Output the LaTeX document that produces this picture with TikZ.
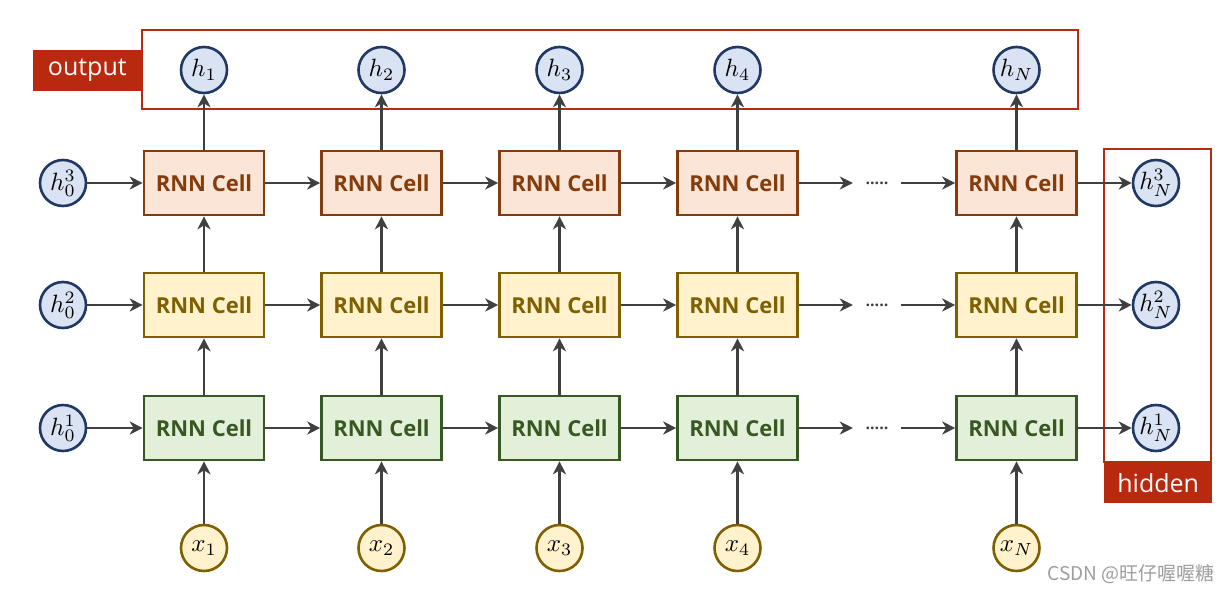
\documentclass[tikz,border=0pt]{standalone}
\usepackage{fix-cm}
\usepackage{fontspec}
\setmainfont{Open Sans}
\newfontfamily\cjkfont{Noto Sans CJK SC}
\usetikzlibrary{arrows.meta}
\definecolor{orfill}{HTML}{FBE5D6}
\definecolor{orline}{HTML}{843C0C}
\definecolor{yefill}{HTML}{FFF2CC}
\definecolor{yeline}{HTML}{7F6000}
\definecolor{grfill}{HTML}{E2F0D9}
\definecolor{grline}{HTML}{385723}
\definecolor{blfill}{HTML}{DAE3F3}
\definecolor{blline}{HTML}{203864}
\definecolor{redc}{HTML}{B8290F}
\definecolor{arrgray}{HTML}{404040}
\newcommand{\circmath}[1]{\scalebox{2.5}{$#1$}}
\tikzset{
  cell/.style={draw, line width=2.6pt, minimum width=120pt, minimum height=64pt, inner sep=0pt,
    font=\fontsize{22}{22}\selectfont\bfseries},
  rowc/.style={cell, fill=orfill, draw=orline, text=orline},
  rowb/.style={cell, fill=yefill, draw=yeline, text=yeline},
  rowa/.style={cell, fill=grfill, draw=grline, text=grline},
  hcirc/.style={circle, draw=blline, fill=blfill, line width=2.6pt, minimum size=46pt, inner sep=0pt,
    font=\normalsize},
  xcirc/.style={hcirc, draw=yeline, fill=yefill},
  arr/.style={-{Stealth[length=13pt,width=13pt,inset=4pt]}, line width=2.5pt, draw=arrgray},
  redbox/.style={draw=redc, line width=2.2pt},
  redlabel/.style={fill=redc, text=white, inner sep=0pt, font=\fontsize{25}{25}\selectfont},
  dotsnode/.style={minimum width=48pt, inner sep=0pt, font=\fontsize{16}{16}\selectfont\bfseries, text=arrgray}
}
\begin{document}
\begin{tikzpicture}[x=1pt,y=-1pt]
\useasboundingbox (0,0) rectangle (1231,592);
\fill[white] (0,0) rectangle (1231,592);

% red frames
\draw[redbox] (142,30) rectangle (1078,109);
\node[redlabel, minimum width=109pt, minimum height=41pt, anchor=east] (outlab) at (142,70.5) {output};
\draw[redbox] (1104,149) rectangle (1211,462);
\node[redlabel, minimum width=108pt, minimum height=41pt, anchor=north west] (hidlab) at (1104,462) {hidden};

% cells
\foreach \c/\x in {1/204,2/381.5,3/559.5,4/737.5,5/1016.5}{
  \node[rowc] (c3\c) at (\x,183) {RNN Cell};
  \node[rowb] (c2\c) at (\x,305) {RNN Cell};
  \node[rowa] (c1\c) at (\x,428) {RNN Cell};
}

% initial hidden states
\node[hcirc] (h03) at (63,183) {\circmath{h_0^3}};
\node[hcirc] (h02) at (63,305) {\circmath{h_0^2}};
\node[hcirc] (h01) at (63,428) {\circmath{h_0^1}};
% final hidden states
\node[hcirc] (hN3) at (1156,183) {\circmath{h_N^3}};
\node[hcirc] (hN2) at (1156,305) {\circmath{h_N^2}};
\node[hcirc] (hN1) at (1156,428) {\circmath{h_N^1}};

% outputs and inputs
\foreach \c/\x/\lab in {1/204/1,2/381.5/2,3/559.5/3,4/737.5/4,5/1016.5/N}{
  \node[hcirc] (o\c) at (\x,70) {\circmath{h_{\lab}}};
  \node[xcirc] (x\c) at (\x,548) {\circmath{x_{\lab}}};
}

% dots
\node[dotsnode] (d3) at (877,183) {.....};
\node[dotsnode] (d2) at (877,305) {.....};
\node[dotsnode] (d1) at (877,428) {.....};

% horizontal connections
\foreach \r in {1,2,3}{
  \draw[arr] (h0\r) -- (c\r1);
  \draw[arr] (c\r1) -- (c\r2);
  \draw[arr] (c\r2) -- (c\r3);
  \draw[arr] (c\r3) -- (c\r4);
  \draw[arr] (c\r4) -- (d\r.west);
  \draw[arr] (d\r.east) -- (c\r5);
  \draw[arr] (c\r5) -- (hN\r);
}
% vertical connections
\foreach \c in {1,...,5}{
  \draw[arr] (x\c) -- (c1\c);
  \draw[arr] (c1\c) -- (c2\c);
  \draw[arr] (c2\c) -- (c3\c);
  \draw[arr] (c3\c) -- (o\c);
}

% watermark
\node[anchor=east, text=black!38, font=\cjkfont\fontsize{19}{19}\selectfont, inner sep=0pt] (wm) at (1215,574) {CSDN @旺仔喔喔糖};
\end{tikzpicture}
\end{document}
